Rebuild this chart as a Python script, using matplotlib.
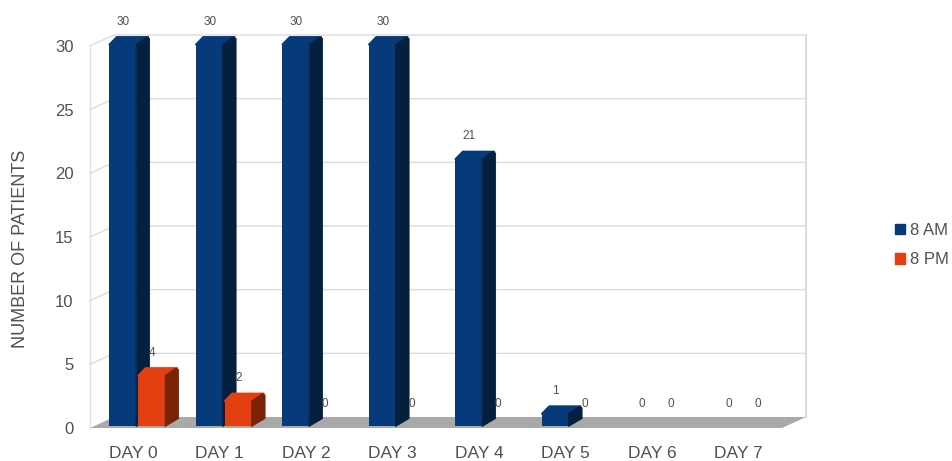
import matplotlib
matplotlib.use('Agg')
import matplotlib.pyplot as plt
from matplotlib.patches import Polygon, Patch

plt.rcParams['font.family'] = ['Liberation Sans', 'DejaVu Sans']

days = ['DAY 0', 'DAY 1', 'DAY 2', 'DAY 3', 'DAY 4', 'DAY 5', 'DAY 6', 'DAY 7']
am_patients = [30, 30, 30, 30, 21, 1, 0, 0]
pm_patients = [4, 2, 0, 0, 0, 0, 0, 0]
y_ticks = [0, 5, 10, 15, 20, 25, 30]

# depth of the fake 3d box and of the bars, in data units
wall_dx = 24 / 86.5
wall_dy = 11 / 12.73
bar_dx = 13.5 / 86.5
bar_dy = 8 / 12.73
lift = 1.5 / 12.73
bar_w = 0.31
text_col = '#505050'

fig = plt.figure(figsize=(9.52, 4.61), dpi=100)
ax = fig.add_axes([90 / 952, 33 / 461, 692 / 952, 382 / 461])
ax.set_xlim(-0.5, 7.5)
ax.set_ylim(0, 30)
for s in ax.spines.values():
    s.set_visible(False)
ax.patch.set_alpha(0)

# walls and grid
x0, x1 = -0.5, 7.5
for v in y_ticks[1:]:
    ax.plot([x0, x0 + wall_dx, x1 + wall_dx], [v, v + wall_dy, v + wall_dy],
            color='#dcdcdc', lw=1, clip_on=False, zorder=1)
ax.plot([x0, x0], [0, 30], color='#e2e2e2', lw=1, clip_on=False, zorder=1)
ax.plot([x0 + wall_dx] * 2, [wall_dy, 30 + wall_dy], color='#e8e8e8', lw=1, clip_on=False, zorder=1)
ax.plot([x1 + wall_dx] * 2, [wall_dy, 30 + wall_dy], color='#dcdcdc', lw=1.5, clip_on=False, zorder=1)
ax.add_patch(Polygon([(x0, 0), (x0 + wall_dx, wall_dy), (x1 + wall_dx, wall_dy), (x1, 0)],
                     closed=True, fc='#a9a9a9', ec='none', clip_on=False, zorder=2))


def draw_bars(values, offset, front, side, z):
    for i, v in enumerate(values):
        if v == 0:
            continue
        left = i + offset
        right = left + bar_w
        top = v + lift
        ax.bar(left, v, width=bar_w, bottom=lift, align='edge', color=front, zorder=z, clip_on=False)
        # top face blends into the front, corners rounded by the thick round join
        ax.add_patch(Polygon([(left, top), (left + bar_dx * 0.55, top + bar_dy * 0.95),
                              (right + bar_dx * 0.9, top + bar_dy * 0.95), (right, top)],
                             closed=True, fc=front, ec=front, lw=1.2, joinstyle='round',
                             clip_on=False, zorder=z))
        ax.add_patch(Polygon([(right, lift), (right + bar_dx, lift + bar_dy),
                              (right + bar_dx, top + bar_dy * 0.75), (right + bar_dx * 0.8, top + bar_dy * 0.95),
                              (right, top)],
                             closed=True, fc=side, ec=side, lw=0.6, joinstyle='round',
                             clip_on=False, zorder=z))


draw_bars(am_patients, -0.277, '#063a7a', '#05203f', 3)
draw_bars(pm_patients, 0.058, '#e33f10', '#7a2206', 4)

# value labels sit above the bars
for i, (a, p) in enumerate(zip(am_patients, pm_patients)):
    ax.text(i - 0.116, a + 1.92, str(a), ha='center', va='center', fontsize=8.5,
            color=text_col, clip_on=False, zorder=5)
    ax.text(i + 0.22, p + 1.92, str(p), ha='center', va='center', fontsize=8.5,
            color=text_col, clip_on=False, zorder=5)

ax.set_xticks(range(len(days)))
ax.set_xticklabels(days)
ax.set_yticks(y_ticks)
ax.tick_params(axis='x', length=0, pad=13, labelsize=12.5, labelcolor=text_col)
ax.tick_params(axis='y', length=0, pad=12, labelsize=12, labelcolor=text_col)
ax.set_ylabel('NUMBER OF PATIENTS', fontsize=13, color=text_col)
ax.yaxis.set_label_coords(-0.088, 0.4686)

handles = [Patch(color='#063a7a', label='8 AM'), Patch(color='#e33f10', label='8 PM')]
fig.legend(handles=handles, loc='center left', bbox_to_anchor=(895 / 952, 1 - 245 / 461),
           frameon=False, fontsize=12, labelcolor=text_col, handlelength=0.6,
           handleheight=0.6, handletextpad=0.33, labelspacing=0.85, borderpad=0, borderaxespad=0)

fig.savefig('out.png', dpi=100)
